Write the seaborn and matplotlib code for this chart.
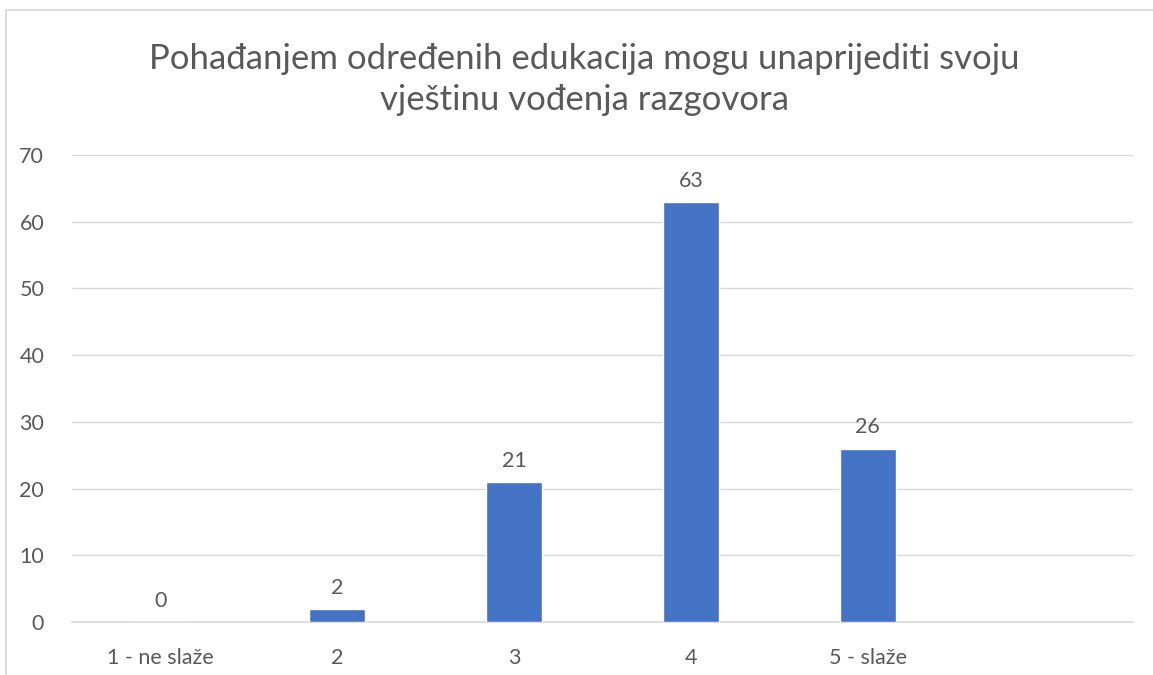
import matplotlib
matplotlib.use("Agg")
import matplotlib.pyplot as plt
import seaborn as sns
import pandas as pd
from matplotlib.lines import Line2D

# Podaci
categories = ["1 - ne slaže", "2", "3", "4", "5 - slaže"]
counts = [0, 2, 21, 63, 26]
title = "Pohađanjem određenih edukacija mogu unaprijediti svoju\nvještinu vođenja razgovora"

df = pd.DataFrame({"kategorija": categories, "broj": counts})

sns.set_style("white")
plt.rcParams["font.family"] = ["Lato", "DejaVu Sans"]
text_color = "#595959"

fig = plt.figure(figsize=(11.53, 6.75), dpi=100)
ax = fig.add_axes([0.0624, 0.0785, 0.9203, 0.6919])

sns.barplot(x="kategorija", y="broj", data=df, color="#4472C4", width=0.316,
            saturation=1, ax=ax, zorder=3)
ax.set_xlim(-0.5, 5.5)
ax.set_ylim(0, 70)
ax.set_yticks(range(0, 71, 10))
ax.yaxis.grid(True, color="#D9D9D9", linewidth=1, zorder=0)
for s in ["top", "right", "left"]:
    ax.spines[s].set_visible(False)
ax.spines["bottom"].set_color("#D9D9D9")
ax.spines["bottom"].set_linewidth(1.2)
ax.tick_params(axis="both", length=0, labelsize=15.5, colors=text_color)
ax.tick_params(axis="x", pad=19)
ax.tick_params(axis="y", pad=20)
ax.set_xlabel("")
ax.set_ylabel("")

for c in ax.containers:
    ax.bar_label(c, fmt="%d", padding=8, fontsize=15.5, color=text_color)

fig.text(0.507, 0.882, title, ha="center", va="center", fontsize=25,
         color=text_color, linespacing=1.35)

# okvir grafikona
fig.add_artist(Line2D([0.005, 1], [0.985, 0.985], transform=fig.transFigure,
                      color="#D9D9D9", linewidth=1.2))
fig.add_artist(Line2D([0.005, 0.005], [0, 0.985], transform=fig.transFigure,
                      color="#D9D9D9", linewidth=1.2))

plt.savefig("out.png", dpi=100)
